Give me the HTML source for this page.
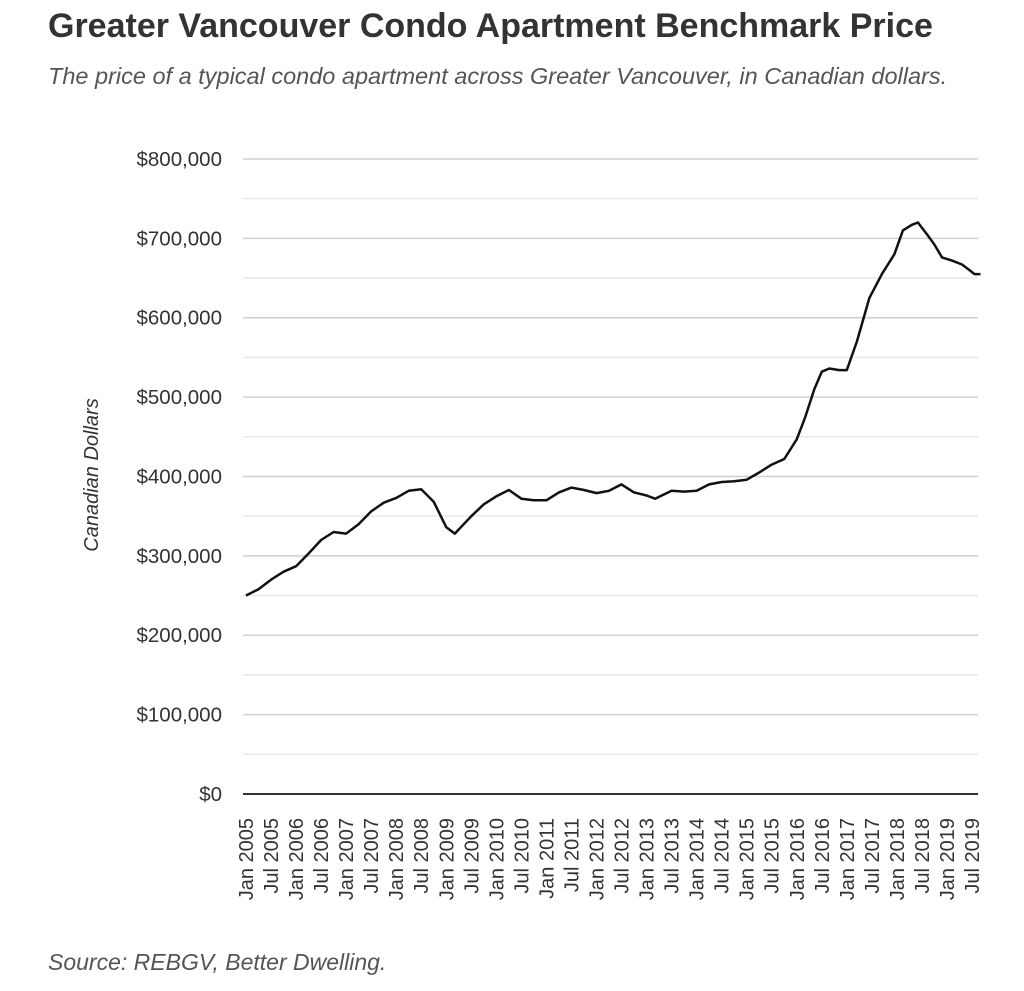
<!DOCTYPE html>
<html><head><meta charset="utf-8"><style>
body{margin:0;background:#fff;width:1024px;height:991px;overflow:hidden;font-family:"Liberation Sans",sans-serif}
.t{position:absolute;left:48px;top:7px;font-size:34px;font-weight:bold;color:#333;white-space:nowrap}
.s{position:absolute;left:48px;top:63px;font-size:23.5px;font-style:italic;color:#555;white-space:nowrap}
.src{position:absolute;left:48px;top:949px;font-size:23px;font-style:italic;color:#555}
svg{position:absolute;left:0;top:0}
</style></head><body>
<div class="t">Greater Vancouver Condo Apartment Benchmark Price</div>
<div class="s">The price of a typical condo apartment across Greater Vancouver, in Canadian dollars.</div>
<div class="src">Source: REBGV, Better Dwelling.</div>
<svg id="c" width="1024" height="991" xmlns="http://www.w3.org/2000/svg" font-family="Liberation Sans, sans-serif">
<g id="g"></g>
<text x="98" y="475" font-size="20" font-style="italic" fill="#333" text-anchor="middle" transform="rotate(-90 98 475)">Canadian Dollars</text>
</svg>
<script>
var g=document.getElementById('g'),h='';
function Y(v){return 794-v*0.7938;}
for(var v=50;v<=800;v+=50){var y=Y(v);h+='<line x1="243" x2="978" y1="'+y+'" y2="'+y+'" stroke="'+(v%100?'#e8e8e8':'#d0d0d0')+'" stroke-width="1.5"/>';}
for(var v=0;v<=800;v+=100){h+='<text x="222" y="'+(Y(v)+7)+'" font-size="20.5" fill="#333" text-anchor="end">$'+(v?v+',000':'0')+'</text>';}
h+='<line x1="243" x2="978" y1="794" y2="794" stroke="#333" stroke-width="2"/>';
for(var i=0;i<30;i++){var x=246+i*25.035+7,yr=2005+Math.floor(i/2);var l=(i%2?'Jul ':'Jan ')+yr;
h+='<text x="'+x+'" y="818" font-size="20" fill="#333" text-anchor="end" transform="rotate(-90 '+x+' 818)">'+l+'</text>';}
var d=[[2005,250],[2005.25,258],[2005.5,270],[2005.75,280],[2006,287],[2006.25,303],[2006.5,320],[2006.75,330],[2007,328],[2007.25,340],[2007.5,356],[2007.75,367],[2008,373],[2008.25,382],[2008.5,384],[2008.75,368],[2009,336],[2009.17,328],[2009.5,350],[2009.75,365],[2010,375],[2010.25,383],[2010.5,372],[2010.75,370],[2011,370],[2011.25,380],[2011.5,386],[2011.75,383],[2012,379],[2012.25,382],[2012.5,390],[2012.75,380],[2013,376],[2013.17,372],[2013.5,382],[2013.75,381],[2014,382],[2014.25,390],[2014.5,393],[2014.75,394],[2015,396],[2015.25,405],[2015.5,415],[2015.75,422],[2016,447],[2016.17,475],[2016.35,510],[2016.5,532],[2016.65,536],[2016.85,534],[2017,534],[2017.2,570],[2017.45,625],[2017.7,655],[2017.95,680],[2018.12,710],[2018.3,717],[2018.42,720],[2018.6,705],[2018.75,692],[2018.9,676],[2019.1,672],[2019.3,667],[2019.45,660],[2019.55,655],[2019.67,655]];
var p=d.map(function(a){return (246+(a[0]-2005)*50.07).toFixed(1)+','+Y(a[1]).toFixed(1)}).join(' ');
h+='<polyline points="'+p+'" fill="none" stroke="#111" stroke-width="2.5" stroke-linejoin="round"/>';
g.innerHTML=h;
</script>
</body></html>
